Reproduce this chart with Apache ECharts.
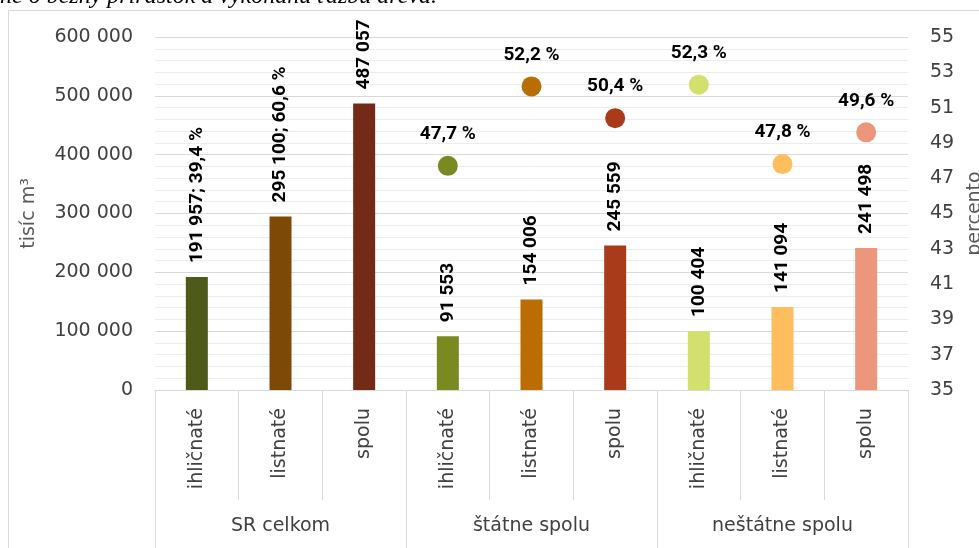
<!DOCTYPE html>
<html>
<head>
<meta charset="utf-8">
<script src="https://cdn.jsdelivr.net/npm/echarts@6/dist/echarts.min.js"></script>
<style>
  html, body { margin: 0; padding: 0; background: #fff; }
  #chart { width: 979px; height: 548px; }
</style>
</head>
<body>
<div id="chart"></div>
<script>
// data
var categories = ['ihličnaté', 'listnaté', 'spolu', 'ihličnaté', 'listnaté', 'spolu', 'ihličnaté', 'listnaté', 'spolu'];
var groups = ['SR celkom', 'štátne spolu', 'neštátne spolu'];
var volumes = [191957, 295100, 487057, 91553, 154006, 245559, 100404, 141094, 241498];
var sharesSR = [39.4, 60.6, null, null, null, null, null, null, null];
var percents = [null, null, null, 47.7, 52.2, 50.4, 52.3, 47.8, 49.6];
var barColors = ['#4e5b18', '#7c4a06', '#732a16', '#7a8a21', '#b96d03', '#a93b1b', '#d4e06e', '#ffbe5e', '#ec967c'];

function fmtNum(v) {
    return String(v).replace(/\B(?=(\d{3})+(?!\d))/g, ' ');
}
function fmtPct(v) {
    return v.toFixed(1).replace('.', ',') + ' %';
}

var chart = echarts.init(document.getElementById('chart'));
var tickFont = 'DejaVu Sans';
var labelFont = 'Roboto';

chart.setOption({
    backgroundColor: '#fff',
    animation: false,
    graphic: [
        {
            type: 'rect',
            shape: { x: 8.5, y: 10.5, width: 1000, height: 600 },
            style: { fill: 'none', stroke: '#d9d9d9', lineWidth: 1 },
            z: -1
        },
        {
            type: 'text',
            left: 0,
            top: -15,
            style: {
                text: 'ne o bežný prírastok a vykonanú ťažbu dreva.',
                font: 'italic 24px "Liberation Serif"',
                fill: '#000'
            }
        }
    ],
    grid: {
        left: 155,
        right: 71,
        top: 37,
        bottom: 158,
        outerBoundsMode: 'none'
    },
    xAxis: [
        {
            type: 'category',
            data: categories,
            axisLine: { lineStyle: { color: '#d9d9d9' } },
            axisTick: { show: true, interval: 0, length: 110, lineStyle: { color: '#d9d9d9' } },
            axisLabel: {
                interval: 0,
                rotate: 90,
                margin: 18,
                fontFamily: tickFont,
                fontSize: 19,
                color: '#404040'
            }
        },
        {
            type: 'category',
            data: groups,
            position: 'bottom',
            axisLine: { show: false },
            axisTick: { show: true, length: 158, lineStyle: { color: '#d9d9d9' } },
            axisLabel: {
                interval: 0,
                margin: 127,
                fontFamily: tickFont,
                fontSize: 19,
                color: '#404040'
            }
        }
    ],
    yAxis: [
        {
            type: 'value',
            min: 0,
            max: 600000,
            interval: 100000,
            name: 'tisíc m³',
            nameLocation: 'middle',
            nameGap: 116,
            nameTextStyle: { fontFamily: tickFont, fontSize: 19, color: '#595959' },
            axisLine: { show: false },
            axisTick: { show: false },
            axisLabel: {
                margin: 22,
                fontFamily: tickFont,
                fontSize: 19,
                color: '#404040',
                formatter: fmtNum
            },
            splitLine: { lineStyle: { color: '#d9d9d9' } },
            minorTick: { show: false, splitNumber: 5 },
            minorSplitLine: { show: true, lineStyle: { color: '#ededed' } }
        },
        {
            type: 'value',
            min: 35,
            max: 55,
            interval: 2,
            name: 'percento',
            nameLocation: 'middle',
            nameRotate: 90,
            nameGap: 58,
            nameTextStyle: { fontFamily: tickFont, fontSize: 19, color: '#595959' },
            axisLine: { show: false },
            axisTick: { show: false },
            axisLabel: {
                margin: 22,
                fontFamily: tickFont,
                fontSize: 19,
                color: '#404040'
            },
            splitLine: { show: false }
        }
    ],
    series: [
        {
            type: 'bar',
            barWidth: 22,
            data: volumes.map(function (v, i) {
                return { value: v, itemStyle: { color: barColors[i] } };
            }),
            label: {
                show: true,
                position: 'top',
                rotate: 90,
                align: 'left',
                verticalAlign: 'middle',
                distance: 14,
                fontFamily: labelFont,
                fontWeight: 'bold',
                fontSize: 19,
                color: '#000',
                formatter: function (p) {
                    var s = fmtNum(p.value);
                    if (sharesSR[p.dataIndex] != null) {
                        s += '; ' + fmtPct(sharesSR[p.dataIndex]);
                    }
                    return s;
                }
            }
        },
        {
            type: 'scatter',
            yAxisIndex: 1,
            symbol: 'circle',
            symbolSize: 20,
            data: percents.map(function (v, i) {
                return { value: v, itemStyle: { color: barColors[i], opacity: 1 } };
            }),
            label: {
                show: true,
                position: 'top',
                distance: 12,
                fontFamily: labelFont,
                fontWeight: 'bold',
                fontSize: 19,
                color: '#000',
                formatter: function (p) {
                    return fmtPct(p.value);
                }
            }
        }
    ]
});
</script>
</body>
</html>
